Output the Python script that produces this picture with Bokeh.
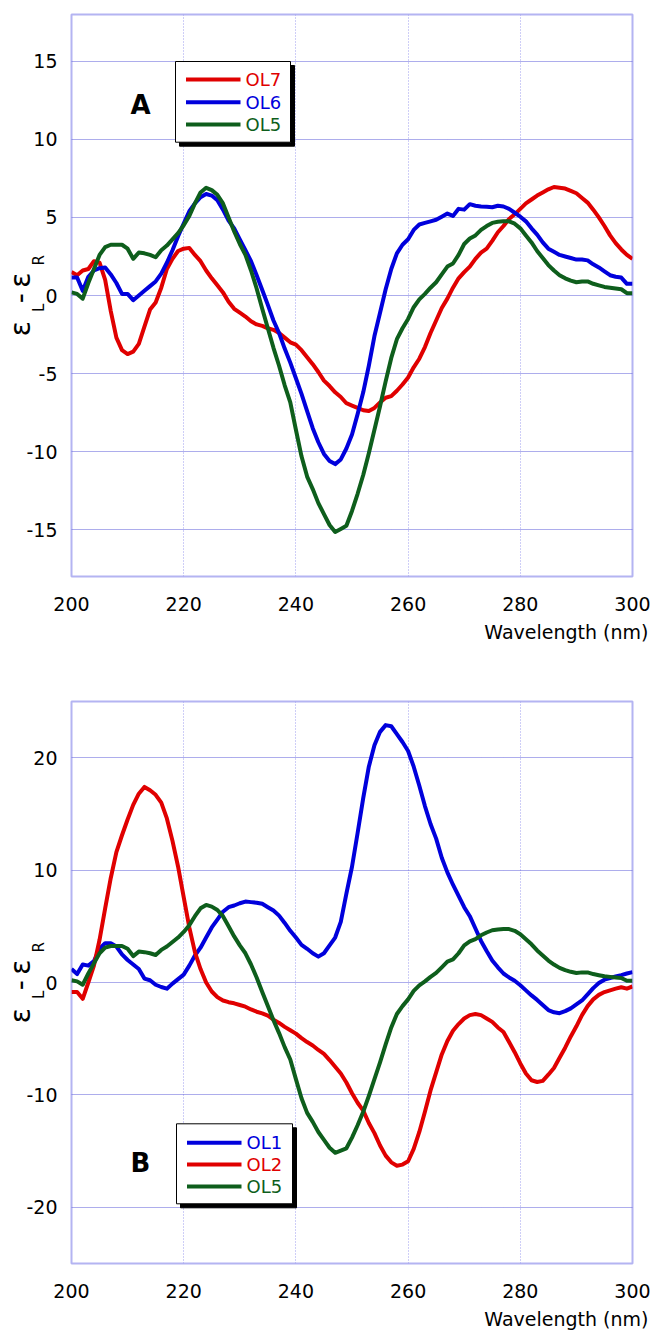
import math
from bokeh.plotting import figure
from bokeh.models import Range1d, FixedTicker, Label, CustomJSTickFormatter, Title, LinearAxis
from bokeh.layouts import column
from bokeh.core.properties import value
from bokeh.embed import file_html
from bokeh.resources import INLINE

# ---------------- data ----------------
wavelength = list(range(200, 301))

ol7 = [1.5, 1.3, 1.6, 1.7, 2.2, 2.1, 1.0, -1.0, -2.7, -3.5,
       -3.75, -3.6, -3.1, -2.0, -0.9, -0.45, 0.5, 1.7, 2.35, 2.85,
       3.0, 3.05, 2.6, 2.2, 1.6, 1.1, 0.65, 0.2, -0.4, -0.85,
       -1.1, -1.35, -1.65, -1.85, -1.95, -2.1, -2.2, -2.4, -2.7, -3.0,
       -3.15, -3.5, -3.95, -4.4, -4.9, -5.45, -5.8, -6.2, -6.5, -6.9,
       -7.05, -7.2, -7.35, -7.4, -7.2, -6.85, -6.55, -6.45, -6.1, -5.7,
       -5.25, -4.6, -4.05, -3.3, -2.4, -1.6, -0.8, -0.2, 0.5, 1.1,
       1.5, 1.85, 2.35, 2.75, 3.0, 3.5, 4.05, 4.45, 4.9, 5.2,
       5.55, 5.9, 6.15, 6.4, 6.6, 6.8, 6.95, 6.9, 6.85, 6.7,
       6.55, 6.25, 5.95, 5.5, 5.0, 4.45, 3.85, 3.35, 2.95, 2.6,
       2.35]

ol6 = [1.15, 1.15, 0.3, 1.2, 1.6, 1.75, 1.8, 1.35, 0.8, 0.1,
       0.1, -0.3, 0.0, 0.3, 0.6, 0.9, 1.4, 2.1, 2.9, 3.8,
       4.6, 5.4, 5.9, 6.3, 6.5, 6.4, 6.1, 5.5, 4.8, 4.3,
       3.6, 2.9, 2.2, 1.3, 0.35, -0.6, -1.6, -2.4, -3.4, -4.3,
       -5.3, -6.3, -7.4, -8.5, -9.4, -10.15, -10.6, -10.8, -10.5, -9.8,
       -8.9, -7.6, -6.2, -4.5, -2.6, -1.1, 0.4, 1.7, 2.7, 3.25,
       3.6, 4.2, 4.55, 4.65, 4.75, 4.85, 5.05, 5.25, 5.1, 5.55,
       5.5, 5.85, 5.75, 5.7, 5.68, 5.65, 5.75, 5.7, 5.55, 5.3,
       5.05, 4.75, 4.3, 3.9, 3.4, 3.0, 2.8, 2.6, 2.5, 2.4,
       2.3, 2.3, 2.25, 2.0, 1.8, 1.55, 1.3, 1.2, 1.15, 0.75,
       0.75]

ol5 = [0.2, 0.1, -0.2, 0.8, 1.7, 2.6, 3.1, 3.25, 3.25, 3.25,
       3.0, 2.35, 2.75, 2.7, 2.6, 2.45, 2.9, 3.2, 3.6, 4.0,
       4.5, 5.1, 5.9, 6.6, 6.9, 6.75, 6.45, 5.9, 5.0, 4.1,
       3.3, 2.6, 1.6, 0.45, -0.85, -2.1, -3.35, -4.5, -5.75, -6.85,
       -8.6, -10.3, -11.6, -12.4, -13.3, -14.0, -14.7, -15.15, -14.95, -14.75,
       -13.8, -12.7, -11.5, -10.1, -8.6, -7.1, -5.5, -4.0, -2.8, -2.1,
       -1.5, -0.75, -0.25, 0.1, 0.5, 0.85, 1.35, 1.85, 2.05, 2.6,
       3.3, 3.65, 3.85, 4.2, 4.45, 4.65, 4.72, 4.75, 4.75, 4.6,
       4.3, 3.85, 3.4, 2.85, 2.4, 1.95, 1.6, 1.3, 1.1, 0.95,
       0.85, 0.9, 0.9, 0.75, 0.65, 0.55, 0.5, 0.45, 0.4, 0.15,
       0.15]

ol1 = [1.2, 0.75, 1.6, 1.5, 1.9, 3.0, 3.5, 3.5, 3.2, 2.5,
       2.0, 1.6, 1.2, 0.35, 0.2, -0.2, -0.4, -0.55, -0.1, 0.3,
       0.7, 1.5, 2.4, 3.1, 4.0, 4.9, 5.6, 6.3, 6.7, 6.85,
       7.05, 7.2, 7.15, 7.1, 7.0, 6.7, 6.4, 5.95, 5.3, 4.6,
       4.0, 3.35, 3.0, 2.6, 2.3, 2.6, 3.3, 4.0, 5.4, 7.9,
       10.3, 13.3, 16.4, 19.2, 21.1, 22.3, 22.9, 22.8, 22.1, 21.4,
       20.6, 19.2, 17.5, 15.7, 14.1, 12.8, 11.1, 9.8, 8.7, 7.7,
       6.7, 5.9, 4.8, 3.7, 2.8, 1.96, 1.35, 0.8, 0.45, 0.15,
       -0.25, -0.7, -1.15, -1.55, -2.0, -2.45, -2.65, -2.73, -2.55, -2.3,
       -1.95, -1.6, -1.05, -0.5, -0.05, 0.25, 0.4, 0.53, 0.65, 0.8,
       0.92]

ol2 = [-0.85, -0.85, -1.45, 0.0, 1.5, 3.8, 6.6, 9.3, 11.6, 13.1,
       14.5, 15.8, 16.8, 17.4, 17.1, 16.7, 16.0, 14.6, 12.6, 10.3,
       7.6, 4.9, 2.7, 1.2, 0.0, -0.8, -1.3, -1.6, -1.75, -1.85,
       -2.0, -2.15, -2.4, -2.6, -2.75, -2.95, -3.3, -3.6, -3.95, -4.25,
       -4.55, -4.95, -5.3, -5.6, -6.0, -6.35, -6.9, -7.5, -8.1, -8.9,
       -9.85, -10.7, -11.4, -12.5, -13.4, -14.5, -15.4, -16.0, -16.3, -16.2,
       -15.9, -14.8, -13.3, -11.5, -9.6, -8.0, -6.4, -5.2, -4.3, -3.7,
       -3.2, -2.9, -2.8, -2.9, -3.2, -3.5, -4.0, -4.4, -5.3, -6.2,
       -7.2, -8.1, -8.7, -8.85, -8.75, -8.2, -7.6, -6.7, -5.8, -4.8,
       -3.9, -2.9, -2.1, -1.5, -1.1, -0.85, -0.7, -0.55, -0.42, -0.55,
       -0.35]

x_ticks = [200, 220, 240, 260, 280, 300]
y_ticks_a = [-15, -10, -5, 0, 5, 10, 15]
y_ticks_b = [-20, -10, 0, 10, 20]

RED = "#e00000"
BLUE = "#0000dc"
GREEN = "#0e5e1c"
FONT = "DejaVu Sans"
NB = "\u00a0"
THIN = "\u2009"

FRAME_LEFT = 71      # page px
FRAME_W = 561
FRAME_H = 562

# y-axis title pieces: subscripts (near the axis) and main symbols (outer)
YLABEL_SUB = NB * 5 + "L" + NB * 8 + "R"
YLABEL_MAIN = "ε" + NB * 2 + "-" + THIN + "ε" + NB * 2


def make_panel(ylo, yhi, yticks, border_top, border_bottom):
    p = figure(frame_width=FRAME_W, frame_height=FRAME_H,
               x_range=Range1d(200, 300), y_range=Range1d(ylo, yhi),
               output_backend="svg", toolbar_location=None,
               min_border_left=FRAME_LEFT, min_border_right=21,
               min_border_top=border_top, min_border_bottom=border_bottom,
               background_fill_color="white", border_fill_color="white")
    p.xaxis.ticker = FixedTicker(ticks=x_ticks)
    p.yaxis.ticker = FixedTicker(ticks=yticks)
    fmt = CustomJSTickFormatter(code="return tick.toString();")
    for ax in (p.xaxis, p.yaxis):
        ax.formatter = fmt
        ax.axis_line_color = None
        ax.major_tick_line_color = None
        ax.minor_tick_line_color = None
        ax.major_tick_out = 0
        ax.major_tick_in = 0
        ax.major_label_text_font = FONT
        ax.major_label_text_font_size = "19px"
        ax.major_label_text_color = "black"
    p.yaxis.major_label_standoff = 14
    p.xaxis.major_label_standoff = 20

    # subscripts L and R, on the main y axis label
    p.yaxis.axis_label = YLABEL_SUB
    p.yaxis.axis_label_text_font = FONT
    p.yaxis.axis_label_text_font_size = "15px"
    p.yaxis.axis_label_text_font_style = "normal"
    p.yaxis.axis_label_text_color = "black"
    p.yaxis.axis_label_standoff = -25

    # epsilons and minus on an outer, tick-less axis
    ax2 = LinearAxis(ticker=FixedTicker(ticks=[]), axis_label=YLABEL_MAIN,
                     axis_line_color=None, major_tick_line_color=None,
                     minor_tick_line_color=None, major_tick_out=0, major_tick_in=0,
                     major_label_standoff=0,
                     axis_label_text_font=FONT, axis_label_text_font_size="28px",
                     axis_label_text_font_style="normal", axis_label_text_color="black",
                     axis_label_standoff=-9)
    p.add_layout(ax2, "left")

    # x axis title, right aligned under the axis
    p.add_layout(Title(text="Wavelength (nm)", align="right", offset=-16, standoff=15,
                       vertical_align="top",
                       text_font=FONT, text_font_size="19px",
                       text_font_style="normal", text_color="black"), "below")

    p.ygrid.grid_line_color = "#5a5ad8"
    p.ygrid.grid_line_dash = "1 1"
    p.ygrid.grid_line_width = 1
    p.xgrid.grid_line_color = "#9c9cee"
    p.xgrid.grid_line_dash = "1 2"
    p.xgrid.grid_line_width = 1
    p.outline_line_color = "#b4b4f2"
    p.outline_line_width = 2
    return p


def converter(frame_top, ylo, yhi):
    def cx(px):
        return 200 + (px - FRAME_LEFT) * 100.0 / FRAME_W

    def cy(py):
        return yhi - (py - frame_top) * (yhi - ylo) / FRAME_H
    return cx, cy


def decorate(p, cx, cy, letter, letter_center, legend_box, rows, entries):
    # panel letter
    p.add_layout(Label(x=cx(letter_center[0]), y=cy(letter_center[1]), text=letter,
                       text_font=FONT, text_font_size="26px", text_font_style="bold",
                       text_align="center", text_baseline="middle", text_color="black"))
    # legend box with shadow
    l, r, t, b = legend_box
    p.quad(left=cx(l + 4), right=cx(r + 4), top=cy(t + 4), bottom=cy(b + 4),
           fill_color="black", line_color="black")
    p.quad(left=cx(l), right=cx(r), top=cy(t), bottom=cy(b),
           fill_color="white", line_color="black", line_width=1)
    for (name, color), ry in zip(entries, rows):
        p.segment(x0=cx(l + 10.5), x1=cx(l + 65), y0=cy(ry), y1=cy(ry),
                  line_color=color, line_width=4)
        p.text(x=[cx(l + 70)], y=[cy(ry)], text=[name], text_color=color,
               text_font=value(FONT), text_font_size="18px",
               text_align="left", text_baseline="middle")


# ---------------- panel A ----------------
TOP_A = 14
pa = make_panel(-18, 18, y_ticks_a, TOP_A, 84)
cxa, cya = converter(TOP_A, -18, 18)
for ys, c in ((ol7, RED), (ol6, BLUE), (ol5, GREEN)):
    pa.line(wavelength, ys, line_color=c, line_width=4, line_join="round")
decorate(pa, cxa, cya, "A", (140, 104), (175, 290, 61, 141.7), (79, 101.7, 124),
         [("OL7", RED), ("OL6", BLUE), ("OL5", GREEN)])

# ---------------- panel B ----------------
# panel B figure starts at page y = 660; its frame top is at page y 701
TOP_B = 701
pb = make_panel(-25, 25, y_ticks_b, 41, 71)
cxb, cyb = converter(TOP_B, -25, 25)
for ys, c in ((ol1, BLUE), (ol2, RED), (ol5, GREEN)):
    pb.line(wavelength, ys, line_color=c, line_width=4, line_join="round")
decorate(pb, cxb, cyb, "B", (140, 1162), (176, 292, 1123.3, 1203.3), (1142.3, 1164, 1186),
         [("OL1", BLUE), ("OL2", RED), ("OL5", GREEN)])

layout = column(pa, pb)
open("out.html", "w").write(file_html(layout, INLINE))
